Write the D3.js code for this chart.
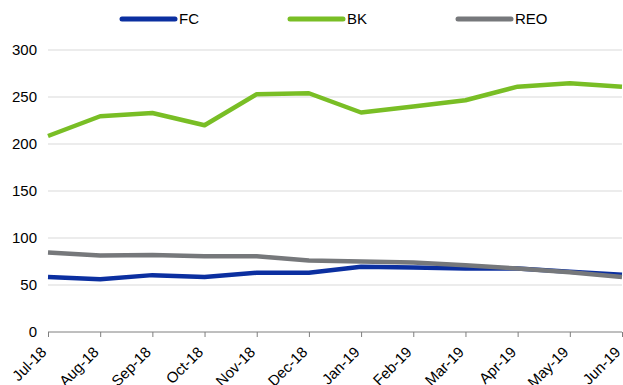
<!DOCTYPE html>
<html>
<head>
<meta charset="utf-8">
<script src="https://cdn.jsdelivr.net/npm/d3@7"></script>
<style>
  body { margin: 0; background: #fff; }
  text { font-family: "Liberation Sans", Arial, sans-serif; fill: #000; }
</style>
</head>
<body>
<script>
// monthly counts, Jul-18 .. Jun-19
var months = ["Jul-18", "Aug-18", "Sep-18", "Oct-18", "Nov-18", "Dec-18",
              "Jan-19", "Feb-19", "Mar-19", "Apr-19", "May-19", "Jun-19"];
var fc  = [58.5, 56, 60.5, 58.5, 63, 63, 69.5, 68.5, 67.5, 67.5, 64, 61];
var bk  = [208.5, 229.5, 233, 220, 253, 254, 233.5, 240, 246.5, 261, 264.5, 261];
var reo = [84.5, 81.5, 82, 80.5, 80.5, 76, 75, 74, 71, 67.5, 63.5, 58.5];
var yTicks = [0, 50, 100, 150, 200, 250, 300];

var series = [
  {name: "FC",  values: fc,  color: "#0b2fa0"},
  {name: "BK",  values: bk,  color: "#79be25"},
  {name: "REO", values: reo, color: "#76787b"}
];

var width = 623, height = 385;
var plotLeft = 48, plotRight = 622, plotTop = 50, plotBottom = 332;

var svg = d3.select("body").append("svg")
    .attr("width", width)
    .attr("height", height);

var x = d3.scalePoint().domain(months).range([plotLeft, plotRight]);
var y = d3.scaleLinear().domain([0, 300]).range([plotBottom, plotTop]);

// gridlines
svg.append("g").selectAll("line").data(yTicks.filter(d => d > 0))
    .enter().append("line")
    .attr("x1", plotLeft).attr("x2", plotRight)
    .attr("y1", d => y(d)).attr("y2", d => y(d))
    .style("stroke", "#d9d9d9")
    .style("stroke-width", 1);

// y labels
svg.append("g").selectAll("text").data(yTicks)
    .enter().append("text")
    .text(d => d)
    .attr("x", 37)
    .attr("y", d => y(d) + 5)
    .attr("text-anchor", "end")
    .style("font-size", "15px");

// x axis
var xAxis = svg.append("g")
    .attr("transform", "translate(0," + plotBottom + ")")
    .call(d3.axisBottom(x).tickSize(5).tickSizeOuter(0));
xAxis.select(".domain").attr("stroke", "#7f7f7f").attr("d", "M" + plotLeft + ",0H" + plotRight);
xAxis.selectAll(".tick line").attr("stroke", "#7f7f7f");
xAxis.selectAll("text")
    .style("font-size", "15px")
    .style("font-family", "'Liberation Sans', Arial, sans-serif")
    .attr("fill", "#000")
    .attr("text-anchor", "end")
    .attr("dx", 0).attr("dy", 0)
    .attr("y", 0)
    .attr("transform", "translate(-1,21) rotate(-45)");

// lines
var line = d3.line()
    .x((d, i) => x(months[i]))
    .y(d => y(d));

svg.append("g").selectAll("path").data(series)
    .enter().append("path")
    .attr("d", d => line(d.values))
    .style("fill", "none")
    .style("stroke", d => d.color)
    .style("stroke-width", 4.5)
    .style("stroke-linejoin", "round");

// legend
var lg = svg.append("g").selectAll("g").data(series)
    .enter().append("g")
    .attr("transform", (d, i) => "translate(" + (122 + i * 168) + ",19)");
lg.append("line")
    .attr("x1", 0).attr("x2", 53)
    .attr("y1", 0).attr("y2", 0)
    .style("stroke", d => d.color)
    .style("stroke-width", 5)
    .style("stroke-linecap", "round");
lg.append("text")
    .text(d => d.name)
    .attr("x", 57)
    .attr("y", 5)
    .style("font-size", "15px");
</script>
</body>
</html>
